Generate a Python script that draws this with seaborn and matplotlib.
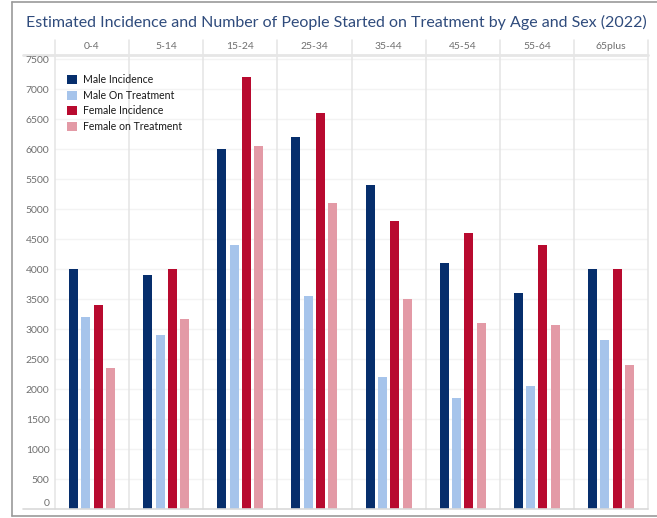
import matplotlib
matplotlib.use("Agg")
import matplotlib.pyplot as plt
from matplotlib.lines import Line2D
from matplotlib.transforms import ScaledTranslation
import seaborn as sns
import pandas as pd

# Age groups and series
age_groups = ["0-4", "5-14", "15-24", "25-34", "35-44", "45-54", "55-64", "65plus"]
series = ["Male Incidence", "Male On Treatment", "Female Incidence", "Female on Treatment"]

male_incidence = [4000, 3900, 6000, 6200, 5400, 4100, 3600, 4000]
male_on_treatment = [3200, 2900, 4400, 3550, 2200, 1850, 2050, 2820]
female_incidence = [3400, 4000, 7200, 6600, 4800, 4600, 4400, 4000]
female_on_treatment = [2350, 3170, 6050, 5100, 3500, 3100, 3070, 2400]

y_ticks = list(range(0, 7501, 500))

colors = ["#062e6c", "#a6c4eb", "#b80a2f", "#e39aa6"]

rows = []
for name, vals in zip(series, [male_incidence, male_on_treatment,
                               female_incidence, female_on_treatment]):
    for g, v in zip(age_groups, vals):
        rows.append({"Age": g, "Series": name, "Value": v})
df = pd.DataFrame(rows)

sns.set_theme(style="white")
plt.rcParams["font.family"] = ["Lato", "DejaVu Sans"]

fig = plt.figure(figsize=(6.57, 5.18), dpi=100)
ax = fig.add_axes([55 / 657, 1 - 509 / 518, (648 - 55) / 657, (509 - 55) / 518])

sns.barplot(data=df, x="Age", y="Value", hue="Series", order=age_groups,
            hue_order=series, palette=colors, width=0.665, gap=0.27,
            saturation=1, linewidth=0, ax=ax, legend=True)

ax.set_xlim(-0.5, len(age_groups) - 0.5)
ax.set_ylim(0, 7567)
ax.set_xlabel("")
ax.set_ylabel("")

for s in ax.spines.values():
    s.set_visible(False)

# horizontal gridlines (faint)
ax.set_yticks(y_ticks)
for y in y_ticks[1:]:
    ax.axhline(y, color="#f3f3f3", lw=1, zorder=0)

# category separators extending into the header band
grid_c = "#e4e4e4"
for i in range(len(age_groups) + 1):
    ax.add_line(Line2D([(i) / len(age_groups)] * 2, [0, 1 + 15 / 454],
                       transform=ax.transAxes, color=grid_c, lw=1.1,
                       clip_on=False, zorder=0))

# header rule and baseline
ax.add_line(Line2D([-32 / 593, 1], [1, 1], transform=ax.transAxes,
                   color="#e6e6e6", lw=2, clip_on=False, zorder=0))
ax.add_line(Line2D([-32 / 593, 1], [0, 0], transform=ax.transAxes,
                   color="#d9d9d9", lw=1.2, clip_on=False, zorder=3))

# category labels on top
ax.xaxis.tick_top()
ax.set_xticks(range(len(age_groups)))
ax.set_xticklabels(age_groups)
ax.tick_params(axis="x", length=0, pad=3, labelsize=7.5, labelcolor="#6f6f6f")
ax.tick_params(axis="y", length=0, pad=4, labelsize=7.5, labelcolor="#6f6f6f")
ax.set_yticklabels([str(v) for v in y_ticks])
# the zero label sits a little above the baseline
zero_lbl = ax.get_yticklabels()[0]
zero_lbl.set_transform(zero_lbl.get_transform() + ScaledTranslation(0, 6 / 100, fig.dpi_scale_trans))

# legend
handles, labels = ax.get_legend_handles_labels()
ax.legend(handles, labels, loc="upper left", bbox_to_anchor=(60 / 657, 1 - 67 / 518),
          bbox_transform=fig.transFigure, frameon=False, fontsize=7.6,
          handlelength=0.95, handleheight=0.95, handletextpad=0.55,
          labelspacing=0.42, borderpad=0.2, labelcolor="#1a1a1a")

fig.text(336 / 657, 1 - 22 / 518,
         "Estimated Incidence and Number of People Started on Treatment by Age and Sex (2022)",
         ha="center", va="center", fontsize=11.5, color="#2f4b7c")

# outer frame
frame_c = "#9a9a9a"
fig.add_artist(Line2D([12 / 657, 1], [1 - 2 / 518] * 2, transform=fig.transFigure,
                      color=frame_c, lw=1.2))
fig.add_artist(Line2D([12 / 657] * 2, [1 - 2 / 518, 1 - 516 / 518],
                      transform=fig.transFigure, color=frame_c, lw=1.2))
fig.add_artist(Line2D([12 / 657, 1], [1 - 516 / 518] * 2, transform=fig.transFigure,
                      color=frame_c, lw=1.2))

fig.savefig("out.png", dpi=100)
